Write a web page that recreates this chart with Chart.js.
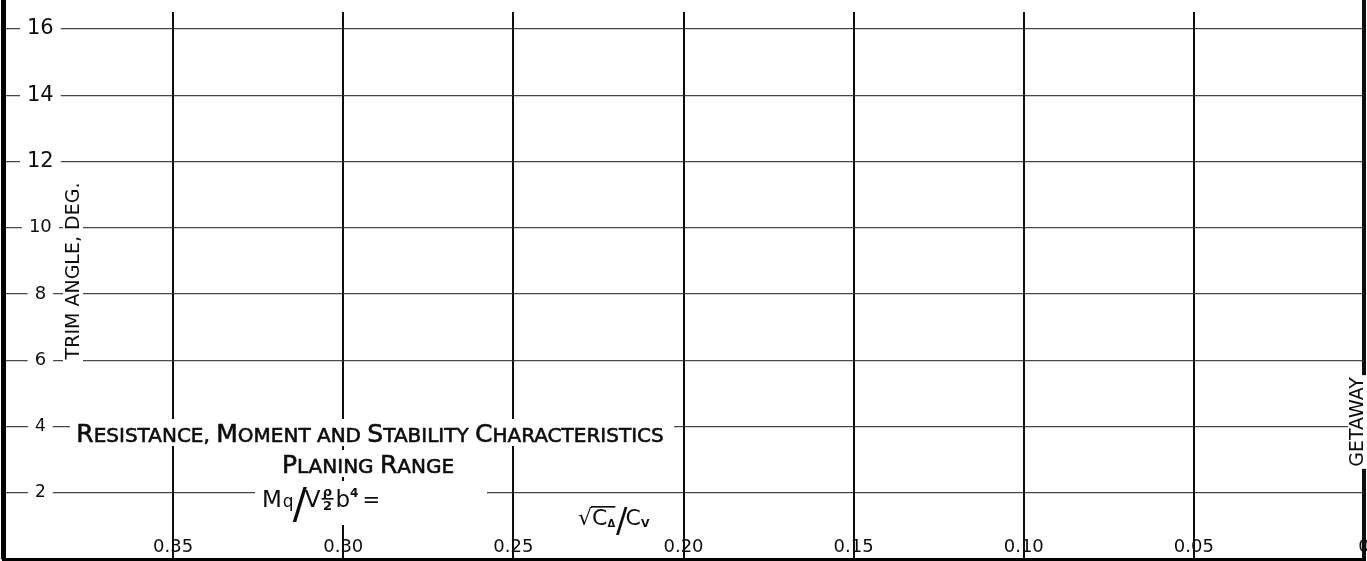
<!DOCTYPE html>
<html>
<head>
<meta charset="utf-8">
<script src="https://cdn.jsdelivr.net/npm/chart.js@4.4.1/dist/chart.umd.min.js"></script>
<style>
html,body{margin:0;padding:0;background:#fff;}
#wrap{width:1367px;height:561px;position:relative;}
</style>
</head>
<body>
<div id="wrap"><canvas id="c" width="1367" height="561"></canvas></div>
<script>
// ---- data ----
const xTicks = [0, 0.05, 0.10, 0.15, 0.20, 0.25, 0.30, 0.35];
const xTickLabels = ['0', '0.05', '0.10', '0.15', '0.20', '0.25', '0.30', '0.35'];
const yTicks = [2, 4, 6, 8, 10, 12, 14, 16];
const yTickLabels = ['2', '4', '6', '8', '10', '12', '14', '16'];
const xRange = [0, 0.40];
const yRange = [0, 16.875];
const titleLine1 = 'Resistance, Moment and Stability Characteristics';
const titleLine2 = 'Planing Range';
const yAxisTitle = 'TRIM ANGLE, DEG.';
const getawayLabel = 'GETAWAY';

const FAM = '"DejaVu Sans", sans-serif';
const INK = '#0d0d0d';

function drawSmallCaps(ctx, text, cx, baseline, big, small) {
  const runs = [];
  for (const ch of text) {
    const isBig = ch !== ch.toLowerCase();
    const size = isBig ? big : small;
    const last = runs[runs.length - 1];
    if (last && last.size === size) last.t += ch.toUpperCase();
    else runs.push({ t: ch.toUpperCase(), size });
  }
  let total = 0;
  runs.forEach(r => { ctx.font = r.size + 'px ' + FAM; r.w = ctx.measureText(r.t).width; total += r.w; });
  let x = cx - total / 2;
  ctx.textAlign = 'left';
  ctx.textBaseline = 'alphabetic';
  ctx.lineWidth = 0.6;
  ctx.strokeStyle = INK;
  runs.forEach(r => {
    ctx.font = r.size + 'px ' + FAM;
    ctx.fillText(r.t, x, baseline);
    ctx.strokeText(r.t, x, baseline);
    x += r.w;
  });
  return total;
}

function txt(ctx, s, x, y, size, weight) {
  ctx.font = (weight || '') + ' ' + size + 'px ' + FAM;
  ctx.fillText(s, x, y);
  return ctx.measureText(s).width;
}

const annotations = {
  id: 'annotations',
  beforeDatasetsDraw(chart) {
    const ctx = chart.ctx;
    const a = chart.chartArea;
    ctx.save();
    ctx.fillStyle = '#fff';
    ctx.fillRect(a.left + 5, a.top, a.right - a.left - 9, 12);
    ctx.restore();
  },
  afterDraw(chart) {
    const ctx = chart.ctx;
    ctx.save();
    // white backdrops behind lettering
    ctx.fillStyle = '#fff';
    ctx.fillRect(70, 419, 604, 27);
    ctx.fillRect(268, 450, 200, 27);
    ctx.fillRect(255, 481, 232, 44);
    ctx.fillStyle = INK;

    drawSmallCaps(ctx, titleLine1, 370, 442, 25, 20);
    drawSmallCaps(ctx, titleLine2, 368, 473, 25, 20);

    // Mq / V (rho/2) b^4 =
    ctx.textAlign = 'left';
    ctx.textBaseline = 'alphabetic';
    let x = 262, b = 507;
    x += txt(ctx, 'M', x, b, 23);
    x += txt(ctx, 'q', x + 1, b, 17) + 2;
    x += txt(ctx, '/', x - 2, b + 11, 42) - 4;
    x += txt(ctx, 'V', x, b, 23) + 1;
    ctx.textAlign = 'center';
    txt(ctx, 'ρ', x + 6, b - 11, 13, 'bold');
    txt(ctx, '2', x + 6, b + 3, 13, 'bold');
    ctx.fillRect(x, b - 9, 12, 1.6);
    ctx.textAlign = 'left';
    x += 14;
    x += txt(ctx, 'b', x, b, 23);
    x += txt(ctx, '4', x, b - 10, 12, 'bold') + 4;
    txt(ctx, '=', x, b, 21);

    // sqrt(C_Delta)/C_V
    x = 578; b = 525;
    const sw = txt(ctx, '√', x, b, 22);
    x += sw;
    const cw = txt(ctx, 'C', x, b, 22);
    ctx.fillRect(x - 1, b - 19, cw + 9, 1.6);
    x += cw;
    x += txt(ctx, 'Δ', x, b + 2, 10, 'bold') + 1;
    x += txt(ctx, '/', x, b + 7, 34) - 2;
    x += txt(ctx, 'C', x, b, 22);
    txt(ctx, 'V', x, b + 2, 11, 'bold');

    // y axis title (rotated)
    ctx.save();
    ctx.translate(73, 271);
    ctx.rotate(-Math.PI / 2);
    ctx.font = '19px ' + FAM;
    let w = ctx.measureText(yAxisTitle).width;
    ctx.fillStyle = '#fff';
    ctx.fillRect(-w / 2 - 4, -10, w + 8, 20);
    ctx.fillStyle = INK;
    ctx.textAlign = 'center';
    ctx.textBaseline = 'middle';
    ctx.fillText(yAxisTitle, 0, 1);
    ctx.restore();

    // GETAWAY label on the right border
    ctx.save();
    ctx.translate(1357, 422);
    ctx.rotate(-Math.PI / 2);
    ctx.font = '19px ' + FAM;
    w = ctx.measureText(getawayLabel).width;
    ctx.fillStyle = '#fff';
    ctx.fillRect(-w / 2 - 2, -9, w + 4, 19);
    ctx.fillStyle = INK;
    ctx.textAlign = 'center';
    ctx.textBaseline = 'middle';
    ctx.fillText(getawayLabel, 0, 1);
    ctx.restore();

    ctx.restore();
  }
};

new Chart(document.getElementById('c'), {
  type: 'scatter',
  data: { datasets: [] },
  options: {
    responsive: false,
    animation: false,
    devicePixelRatio: 1,
    layout: { padding: { left: 0, right: 3, top: 0, bottom: 0 } },
    plugins: { legend: { display: false }, tooltip: { enabled: false }, title: { display: false } },
    scales: {
      x: {
        type: 'linear',
        position: 'bottom',
        reverse: true,
        min: xRange[0],
        max: xRange[1],
        afterBuildTicks: s => { s.ticks = xTicks.map(v => ({ value: v })); },
        afterFit: s => { s.height = 2; s.paddingLeft = 0; s.paddingRight = 0; },
        grid: {
          color: INK,
          lineWidth: c => (c.tick && c.tick.value === 0 ? 4 : 2),
          drawTicks: false
        },
        border: { display: true, color: '#000', width: 3 },
        ticks: {
          mirror: true,
          padding: 1,
          maxRotation: 0,
          autoSkip: false,
          color: INK,
          font: { family: FAM, size: 18 },
          callback: (v, i) => xTickLabels[i]
        }
      },
      y: {
        type: 'linear',
        position: 'left',
        min: yRange[0],
        max: yRange[1],
        afterBuildTicks: s => { s.ticks = yTicks.map(v => ({ value: v })); },
        afterFit: s => { s.width = 3; s.paddingTop = 0; s.paddingBottom = 0; },
        grid: { color: 'rgba(40,40,40,0.85)', lineWidth: 1.3, drawTicks: false },
        border: { display: true, color: '#000', width: 5 },
        ticks: {
          mirror: true,
          crossAlign: 'center',
          padding: 24,
          color: INK,
          showLabelBackdrop: true,
          backdropColor: '#fff',
          backdropPadding: { left: 7, right: 7, top: 1, bottom: 1 },
          font: c => {
            const v = c.tick ? c.tick.value : 0;
            return { family: FAM, size: v >= 12 ? 21 : (v >= 6 ? 18 : 17) };
          },
          callback: (v, i) => yTickLabels[i]
        }
      }
    }
  },
  plugins: [annotations]
});
</script>
</body>
</html>
